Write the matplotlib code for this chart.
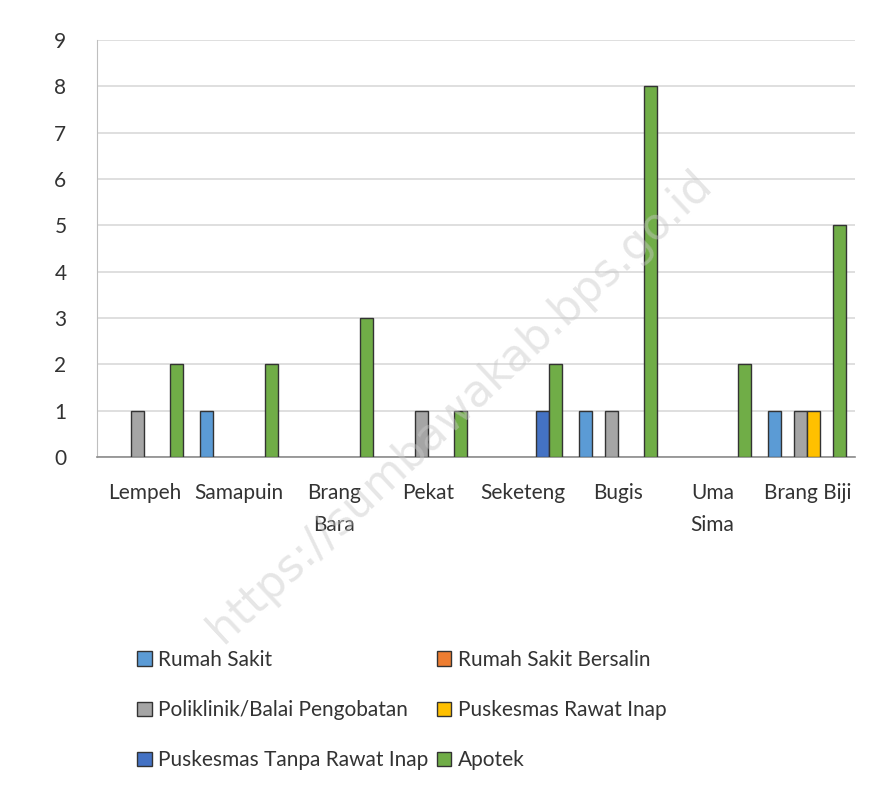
import numpy as np
import matplotlib
matplotlib.use("Agg")
import matplotlib.pyplot as plt
from matplotlib.patches import Patch

# data
kategori = ["Lempeh", "Samapuin", "Brang\nBara", "Pekat", "Seketeng", "Bugis", "Uma\nSima", "Brang Biji"]
rumah_sakit = [0, 1, 0, 0, 0, 1, 0, 1]
rs_bersalin = [0, 0, 0, 0, 0, 0, 0, 0]
poliklinik = [1, 0, 0, 1, 0, 1, 0, 1]
pusk_rawat_inap = [0, 0, 0, 0, 0, 0, 0, 1]
pusk_tanpa_rawat = [0, 0, 0, 0, 1, 0, 0, 0]
apotek = [2, 2, 3, 1, 2, 8, 2, 5]

nama_seri = ["Rumah Sakit", "Rumah Sakit Bersalin", "Poliklinik/Balai Pengobatan",
             "Puskesmas Rawat Inap", "Puskesmas Tanpa Rawat Inap", "Apotek"]
warna = ["#5B9BD5", "#ED7D31", "#A5A5A5", "#FFC000", "#4472C4", "#70AD47"]
seri = [rumah_sakit, rs_bersalin, poliklinik, pusk_rawat_inap, pusk_tanpa_rawat, apotek]

plt.rcParams['font.family'] = ['Lato', 'DejaVu Sans']

fig = plt.figure(figsize=(8.85, 7.97), dpi=100)
ax = fig.add_axes([0.1096, 0.4266, 0.856, 0.5232])

x = np.arange(len(kategori))
lebar = 0.137
for i, (vals, nama, c) in enumerate(zip(seri, nama_seri, warna)):
    pos = x + (i - 2.5) * lebar
    bars = ax.bar(pos, vals, width=lebar, color=c, edgecolor="#333333", linewidth=1.0, zorder=3)
    # batang bernilai nol tidak digambar (seperti Excel)
    for b, v in zip(bars, vals):
        if v == 0:
            b.set_visible(False)

ax.set_ylim(0, 9)
ax.set_xlim(-0.5, len(kategori) - 0.5)
ax.set_yticks(range(0, 10))
ax.yaxis.grid(True, color="#d9d9d9", linewidth=1.2, zorder=0)
ax.set_xticks(x)
ax.set_xticklabels(kategori, fontsize=15, color="#333333", va="top", linespacing=1.75)
ax.tick_params(axis="x", length=0, pad=19)
ax.tick_params(axis="y", length=0, pad=22, labelsize=15, labelcolor="#333333")
for s in ["top", "right"]:
    ax.spines[s].set_visible(False)
ax.spines["left"].set_color("#bfbfbf")
ax.spines["bottom"].set_color("#8c8c8c")
ax.spines["bottom"].set_linewidth(1.2)

# watermark
fig.text(0.52, 0.49, "https://sumbawakab.bps.go.id", fontsize=32, color="#c8c8c8",
         alpha=0.45, rotation=43, ha="center", va="center", family=["DejaVu Sans"], zorder=0)

# legend diisi per baris
handles = [Patch(facecolor=c, edgecolor="#333333", linewidth=1.0) for c in warna]
urutan = [0, 2, 4, 1, 3, 5]
fig.legend([handles[k] for k in urutan], [nama_seri[k] for k in urutan],
           loc="upper left", bbox_to_anchor=(0.134, 0.208), ncol=2, frameon=False,
           fontsize=15, labelspacing=1.45, columnspacing=0.4, handlelength=0.7,
           handleheight=0.7, handletextpad=0.3, bbox_transform=fig.transFigure,
           labelcolor="#333333")

fig.savefig("out.png", dpi=100)
